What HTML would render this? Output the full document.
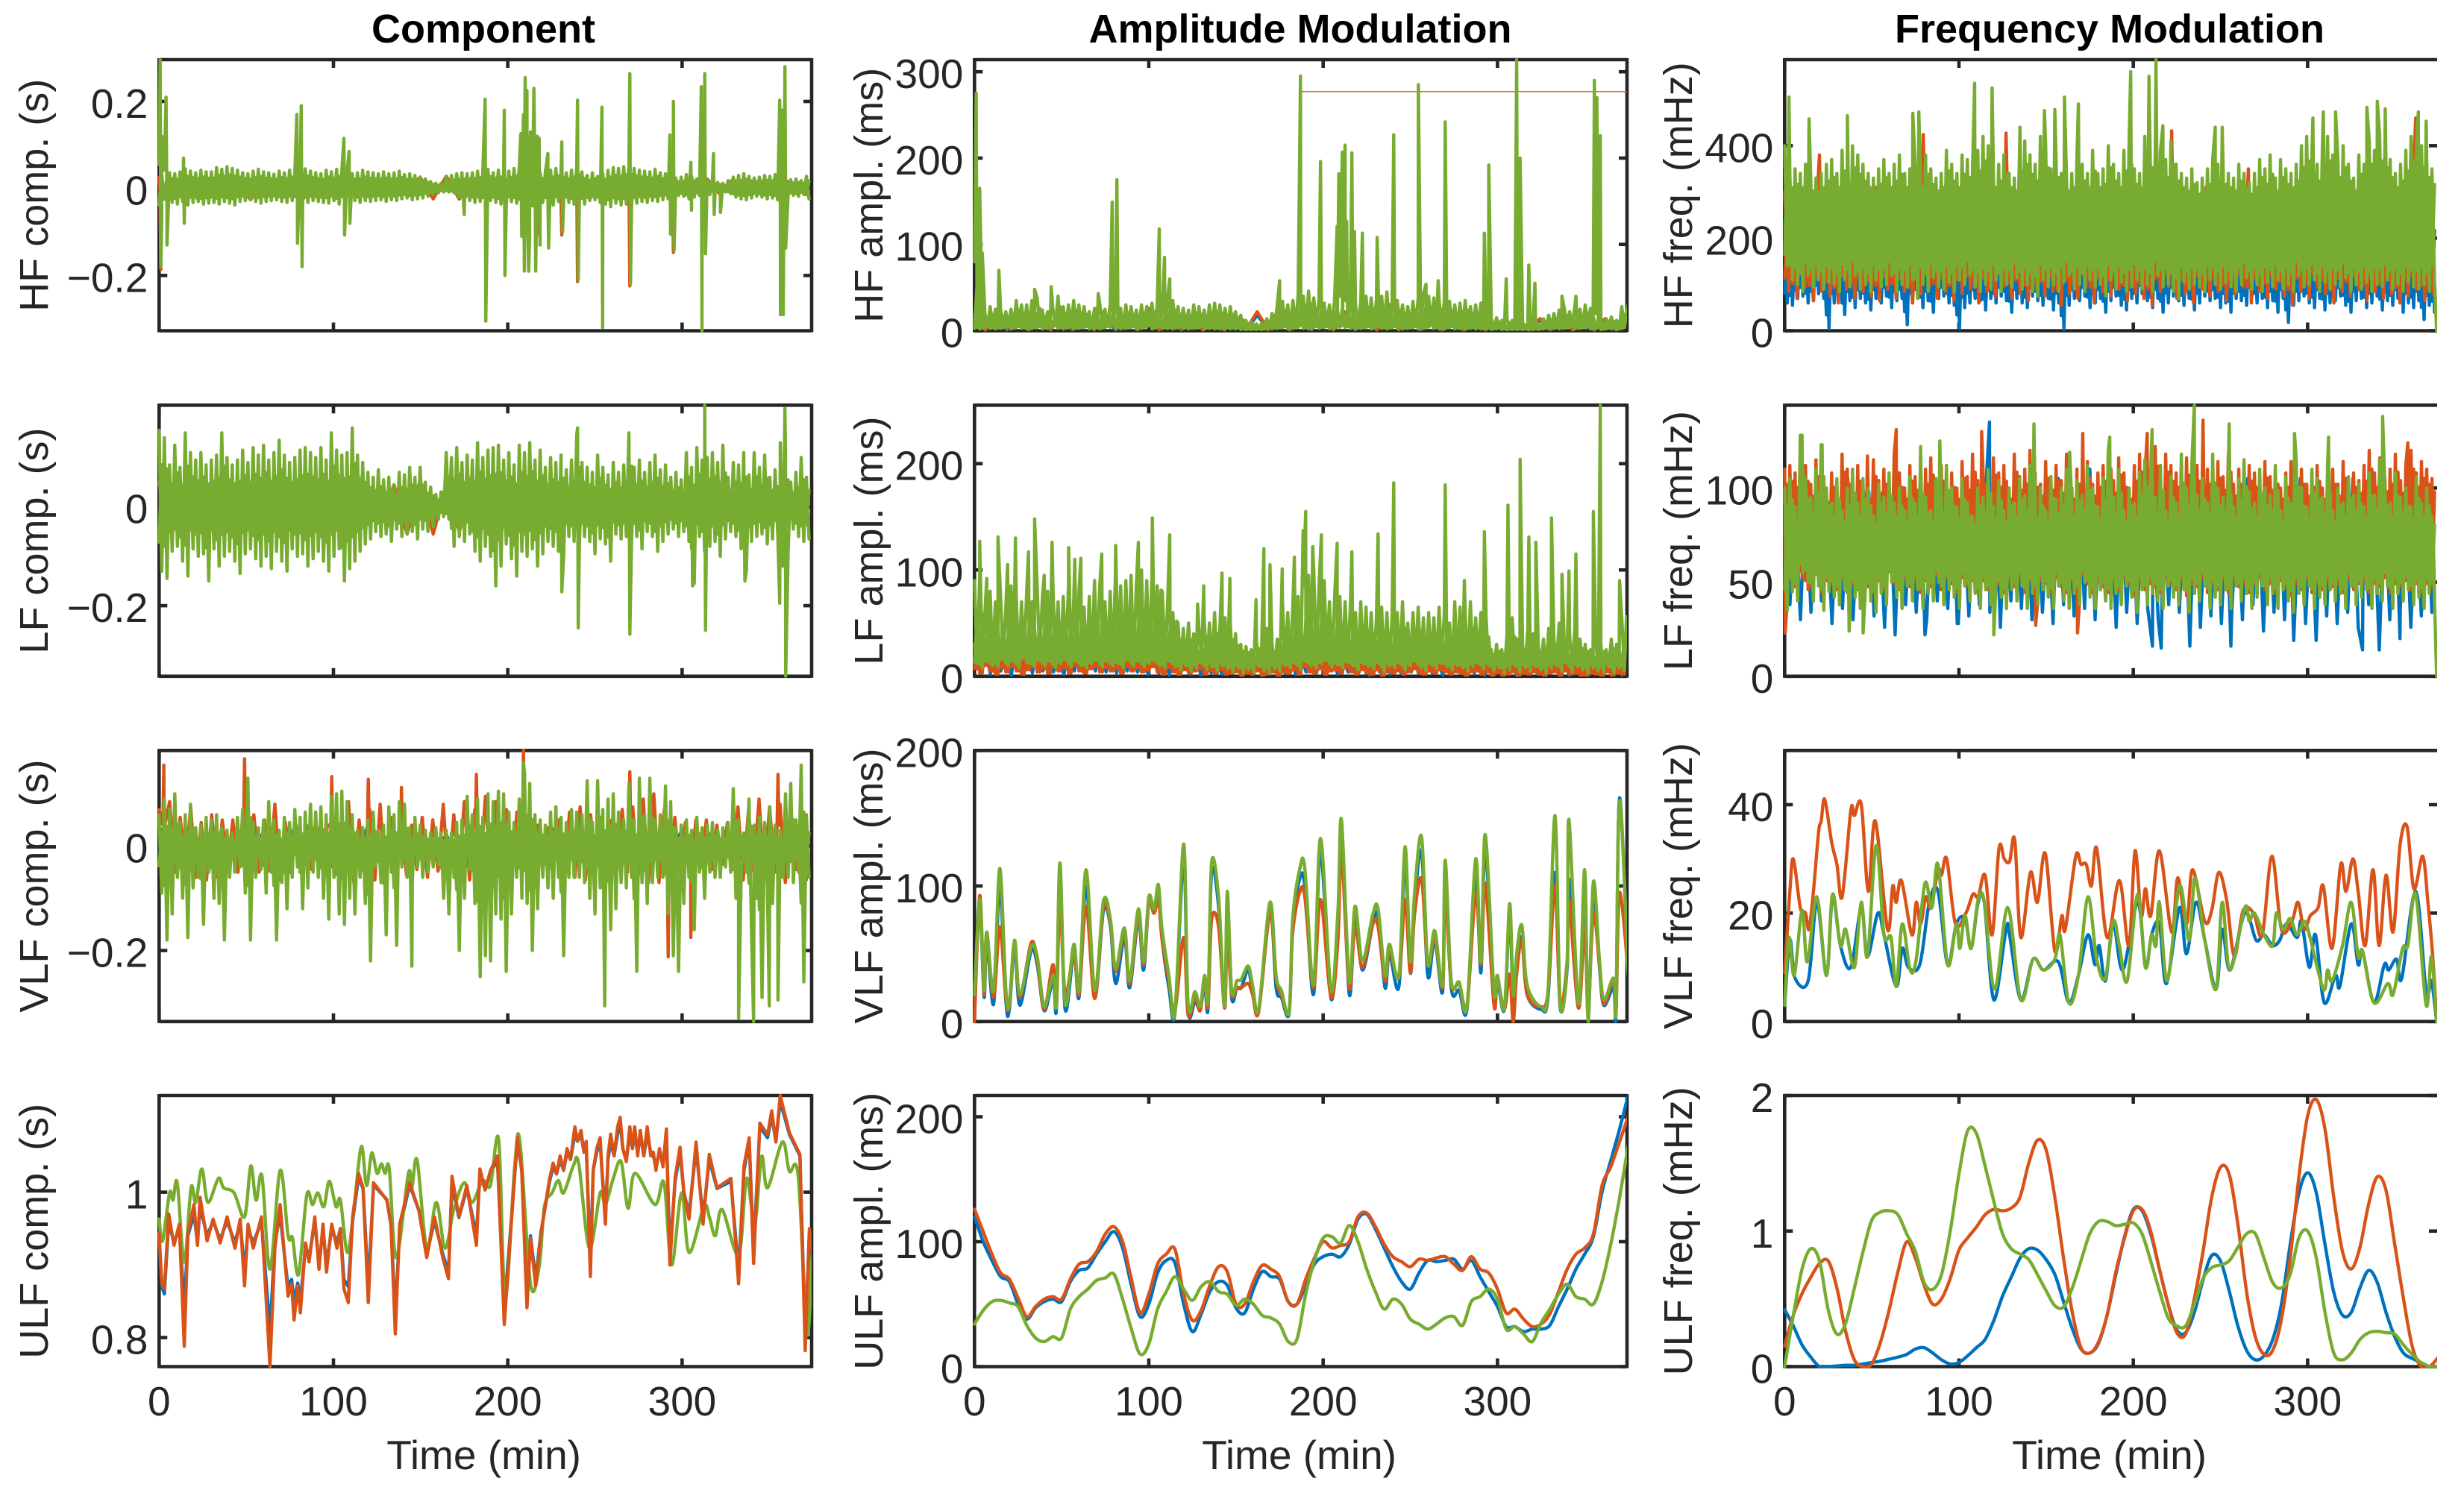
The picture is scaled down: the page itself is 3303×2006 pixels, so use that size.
<!DOCTYPE html>
<html lang="en">
<head>
<meta charset="utf-8">
<title>Component, amplitude and frequency modulation chart</title>
<style>
html,body{margin:0;padding:0;background:#fff}
svg{display:block}
text{font-family:"Liberation Sans",Arial,sans-serif;fill:#262626}
</style>
</head>
<body>
<svg id="figure" xmlns="http://www.w3.org/2000/svg" width="3303" height="2006" viewBox="0 0 3303 2006">
<rect x="0" y="0" width="3303" height="2006" fill="#ffffff"/>
<text x="648" y="57" font-size="54" font-weight="700" text-anchor="middle" style="fill:#000">Component</text>
<text x="1743" y="57" font-size="54" font-weight="700" text-anchor="middle" style="fill:#000">Amplitude Modulation</text>
<text x="2828" y="57" font-size="54" font-weight="700" text-anchor="middle" style="fill:#000">Frequency Modulation</text>
</svg>
<script>
/* ---------- shared axis data ---------- */
const timeTicks=[0,100,200,300];
const timeTickLabels=["0","100","200","300"];
const timeMax=374.3;

/* ---------- HF component (ms) ---------- */
const hfCompGreenHi=[55,42,36,34,38,45,40,36,42,38,38,48,44,50,46,42,36,34,40,44,38,36,33,40,36,42,34,38,45,40,36,34,42,38,44,40,38,34,36,42,38,36,34,38,34,36,40,32,34,30,26,22,16,12,12,26,30,34,36,34,36,40,38,44,36,42,34,40,46,50,48,44,40,36,38,42,46,40,36,42,50,38,30,36,28,34,42,48,46,50,52,46,42,40,38,44,36,34,30,24,26,32,28,22,26,20,16,14,12,18,26,30,34,28,24,26,30,28,32,20,18,20,22,18,28];
const hfCompGreenLo=[-60,-40,-32,-36,-30,-38,-32,-30,-36,-34,-32,-36,-30,-34,-38,-30,-28,-26,-30,-34,-30,-28,-26,-30,-32,-28,-30,-26,-32,-28,-30,-32,-34,-28,-36,-30,-26,-28,-32,-28,-30,-28,-26,-30,-26,-28,-24,-22,-26,-24,-22,-18,-14,-10,-8,-8,-10,-20,-30,-28,-32,-30,-34,-28,-32,-36,-38,-30,-34,-40,-46,-40,-36,-32,-34,-38,-30,-28,-32,-36,-30,-36,-28,-26,-32,-36,-42,-34,-38,-36,-40,-34,-30,-32,-28,-30,-26,-24,-22,-16,-18,-24,-20,-16,-18,-14,-10,-8,-8,-12,-20,-24,-26,-22,-18,-20,-24,-22,-26,-16,-14,-16,-18,-14,-24];
const hfCompGreenSpikeT=[0.6,1,1.5,4,4.5,14,14.4,79,79.4,81.5,82,106,106.4,109,109.4,175,187,187.4,198,198.4,207.5,208,209,209.5,210,210.5,211,212,212.5,213,215,216,217,218,218.5,223,223.4,231,231.4,240,240.4,254,254.4,270,270.4,293,293.4,295,295.4,305,305.4,311,311.4,313,313.4,318,318.4,322,356,356.4,357.5,358,359,359.4];
const hfCompGreenSpikeV=[296,-180,120,210,-130,70,-80,170,-126,190,-180,115,-107,85,-80,-60,205,-305,180,-200,126,-110,170,-190,255,-100,225,-190,-110,130,230,-190,120,115,-130,80,-137,107,-100,203,-210,187,-320,264,-220,123,-105,200,-143,60,-50,234,-327,264,-150,80,-60,-55,203,-290,180,-290,280,-137];
const hfCompBlueHi=[22,24,26,22,24,26,22,20,16,12,22,26,24,26,24,22,24,20,22,22,16,18,20,18,18];
const hfCompBlueLo=[-24,-24,-22,-26,-20,-24,-20,-18,-14,-8,-22,-24,-22,-22,-20,-22,-24,-20,-18,-14,-12,-12,-16,-14,-16];
const hfCompOrangeHi=[26,26,28,28,26,28,24,22,18,12,26,28,28,30,28,26,28,22,22,24,18,22,22,20,20];
const hfCompOrangeLo=[-26,-26,-24,-26,-22,-26,-22,-20,-14,-8,-24,-24,-22,-24,-22,-22,-24,-22,-20,-14,-12,-14,-16,-14,-16];
const hfCompOrangeSpikeT=[0.5,1,1.6,217.4,218,218.6,230.4,231,231.6,239.4,240,240.6,269.4,270,270.6,294.4,295,295.6];
const hfCompOrangeSpikeV=[0,-186,0,0,-105,0,0,-107,0,0,-214,0,0,-224,0,0,-147,0];
const hfCompYTicks=[-0.2,0,0.2];
const hfCompYTickLabels=["\u22120.2","0","0.2"];

/* ---------- LF component (ms) ---------- */
const lfCompGreenHi=[155,140,85,125,80,150,110,95,110,85,95,105,150,100,85,95,115,90,120,105,125,95,110,135,105,90,100,115,120,110,100,120,95,150,115,105,110,160,105,90,70,60,75,55,60,45,70,65,80,60,80,50,40,25,30,110,100,120,90,105,95,130,100,115,120,125,95,110,85,125,110,130,95,115,80,100,90,105,75,95,145,90,80,70,105,80,65,90,70,85,150,80,95,70,90,105,75,85,60,70,55,110,80,120,95,100,110,90,125,60,90,85,110,65,110,80,105,60,75,130,100,50,70,100,60];
const lfCompGreenLo=[-130,-145,-90,-80,-110,-140,-85,-100,-95,-150,-85,-120,-100,-90,-110,-135,-95,-85,-105,-120,-100,-125,-90,-110,-130,-85,-100,-95,-120,-105,-90,-110,-130,-100,-85,-150,-125,-110,-90,-75,-65,-50,-60,-55,-70,-45,-60,-55,-50,-65,-45,-50,-40,-25,-20,-25,-80,-60,-70,-55,-90,-110,-80,-100,-160,-120,-75,-105,-140,-90,-100,-85,-120,-95,-70,-80,-90,-100,-60,-70,-85,-60,-70,-95,-65,-75,-110,-55,-65,-60,-70,-60,-85,-50,-60,-90,-70,-55,-45,-60,-50,-70,-155,-60,-90,-80,-70,-100,-65,-50,-60,-85,-130,-70,-60,-55,-75,-65,-50,-120,-90,-45,-60,-70,-65];
const lfCompGreenSpikeT=[231,240,240.4,270,306,313,313.4,356,359,359.4,336];
const lfCompGreenSpikeV=[-172,160,-245,-258,-160,206,-250,-195,200,-343,-150];
const lfCompBlueHi=[45,45,50,45,50,45,40,20,15,40,50,45,40,40,40,35,25,30,35,30,30,35,25,25,25];
const lfCompBlueLo=[-50,-45,-45,-45,-50,-50,-30,-15,-25,-50,-50,-45,-35,-35,-35,-30,-40,-30,-30,-30,-30,-30,-30,-30,-25];
const lfCompOrangeHi=[50,50,50,45,55,45,40,20,20,45,55,45,40,40,40,40,30,30,35,35,30,35,30,30,30];
const lfCompOrangeLo=[-55,-50,-45,-50,-55,-50,-35,-15,-30,-55,-55,-50,-40,-40,-35,-30,-40,-35,-30,-30,-30,-35,-30,-30,-30];
const lfCompYTicks=[-0.2,0];
const lfCompYTickLabels=["\u22120.2","0"];

/* ---------- VLF component (ms) ---------- */
const vlfCompGreenHi=[60,90,70,100,45,60,80,35,40,55,50,60,35,30,25,55,70,130,45,35,50,85,50,30,55,45,70,55,65,80,65,75,60,95,100,105,85,60,30,35,50,65,30,40,75,60,85,80,35,55,40,30,25,35,25,30,25,45,50,95,60,90,55,100,85,105,100,65,45,90,140,120,60,50,40,65,75,55,45,70,65,60,125,45,125,70,90,100,65,50,120,50,130,60,130,50,60,115,85,35,40,50,30,55,35,40,45,30,35,45,110,50,25,90,40,55,45,75,40,30,100,120,50,155,60];
const vlfCompGreenLo=[-90,-180,-130,-60,-100,-175,-80,-60,-150,-50,-100,-110,-180,-60,-50,-40,-90,-180,-60,-45,-90,-50,-180,-70,-120,-60,-40,-120,-80,-50,-60,-100,-140,-60,-130,-150,-100,-130,-60,-110,-220,-40,-70,-170,-50,-190,-40,-60,-70,-40,-60,-50,-40,-35,-100,-130,-60,-200,-100,-45,-110,-250,-210,-220,-130,-140,-240,-130,-60,-100,-110,-200,-120,-60,-80,-100,-60,-210,-60,-60,-60,-70,-100,-130,-80,-100,-160,-120,-70,-80,-60,-240,-70,-110,-70,-60,-60,-130,-210,-240,-110,-60,-160,-50,-100,-50,-60,-60,-40,-50,-100,-60,-50,-170,-100,-290,-60,-110,-50,-60,-60,-70,-50,-260,-60];
const vlfCompGreenSpikeT=[255.6,332.4,341,350,355,145,209];
const vlfCompGreenSpikeV=[-306,-330,-336,-306,-295,-230,160];
const vlfCompBlueHi=[40,35,30,30,28,35,40,45,40,28,22,22,30,45,45,40,32,28,36,28,28,30,28,28,50];
const vlfCompBlueLo=[-45,-32,-32,-32,-32,-38,-38,-38,-32,-26,-22,-32,-45,-38,-38,-32,-32,-32,-32,-26,-32,-32,-32,-32,-45];
const vlfCompOrangeHi=[70,85,55,75,45,60,50,50,70,60,50,80,45,40,40,35,40,40,85,50,70,80,55,50,40,55,50,80,60,85,70,95,85,70,65,45,40,35,50,65,75,60,55,50,70,75,90,100,70,55,45,50,50,40,45,75,70,90,75,80,50,70];
const vlfCompOrangeLo=[-70,-50,-45,-60,-65,-60,-45,-50,-60,-50,-48,-65,-50,-40,-45,-35,-40,-38,-70,-45,-65,-70,-50,-55,-45,-60,-48,-70,-50,-65,-50,-70,-65,-60,-50,-38,-40,-35,-50,-60,-65,-45,-50,-48,-50,-65,-70,-70,-50,-45,-48,-38,-45,-35,-45,-65,-50,-65,-50,-70,-45,-65];
const vlfCompOrangeSpikeT=[2.2,2.7,3.2,48.5,49,49.5,98.5,99,99.5,119.5,120,120.5,138.5,139,139.5,181.5,182,182.5,208.5,209,209.5,269.5,270,270.5,354.5,355,355.5,291.5,292,292.5,304.5,305,305.5];
const vlfCompOrangeSpikeV=[40,155,40,40,167,40,40,133,40,40,128,40,40,112,40,40,137,40,40,185,40,40,142,40,40,137,40,-40,-212,-40,-40,-175,-40];
const vlfCompYTicks=[-0.2,0];
const vlfCompYTickLabels=["\u22120.2","0"];

/* ---------- ULF component (s) ---------- */
const ulfCompGreenT=[0,2,6,8,10.4,14.4,18.3,21,24.5,28,34,37,43,49,52.6,55.6,59,63.6,69.4,74,76.5,80,84.7,88,91,94.5,97.6,101.5,104,108,112,116,119,122,125,127.5,129.6,132,136,143,145,148,153.5,159,164,169,175,179.5,185.6,190,194.8,198.5,204,207,213,218,221,225.4,229,232,237.6,240.7,246.8,253,256,260.5,265,269,273,284.4,289.6,294,299.7,304,312.5,315.6,319,323,332.4,337,341.6,345.6,349,357.5,361.5,366.6,371.6,374.6];
const ulfCompGreenV=[0.963,0.933,0.999,0.989,1.013,0.904,1.006,0.986,1.032,0.986,1.019,1.006,0.999,0.966,1.036,0.989,1.022,0.894,1.03,0.94,0.937,0.887,0.996,0.983,0.999,0.98,1.015,0.98,0.989,0.917,0.983,1.063,1.009,1.054,1.026,1.039,1.026,1.032,0.91,1.026,1.006,1.044,0.923,0.986,0.923,0.976,1.013,0.986,1.016,1.009,1.072,0.854,1.036,1.069,0.874,0.897,0.98,0.999,1.016,0.999,1.036,1.039,0.923,0.999,0.983,1.019,1.042,0.978,1.026,0.983,1.013,0.9,0.999,0.917,0.98,0.966,0.94,0.976,0.914,1.019,0.956,1.049,1.006,1.069,1.029,1.022,0.805,0.917];
const ulfCompOrangeT=[0,1.5,3,5.5,8.5,11.6,14.4,16.5,20,22,23.5,27.5,31,35,39,43.5,46.5,49,51,54,58.7,63.6,66.4,69.4,72.5,74,76,77.4,79.5,81,84,86,89.3,91.7,94,96,99,102,104,106,108.5,111,114.4,117,120,123,130.6,133,135.5,138,143.7,149,153.5,158,162.7,166,168,172,176.5,182,184,187,190,194,198,201,205.5,208,211,213,216,219,224,226,228,230,232,234,236,238.5,240,242,243.7,245,247.4,249,251,253,254,256,257.5,259,261,263,264.5,266,268,270,271.5,272.8,274.5,276,278,280,282,283.5,285,287,289,291,293,296,298.8,301,304,308,312,315.6,320,328,332.4,335.5,338.5,341,344.6,349,351.4,353.8,356.3,361.5,367.6,370.6,373,374.6];
const ulfCompOrangeV=[0.943,0.874,0.867,0.97,0.927,0.956,0.788,0.943,0.983,0.927,0.993,0.933,0.963,0.93,0.966,0.923,0.963,0.871,0.956,0.923,0.966,0.76,0.923,0.983,0.897,0.857,0.874,0.824,0.871,0.834,0.93,0.904,0.966,0.894,0.956,0.89,0.956,0.923,0.95,0.867,0.848,0.966,1.026,1.006,0.848,1.013,0.989,0.956,0.805,0.956,1.013,0.975,0.91,0.966,0.91,0.881,1.022,0.966,1.009,0.927,1.032,1.003,1.029,1.05,0.818,0.923,1.075,1.03,0.841,0.937,0.871,0.943,1.019,1.04,1.025,1.05,1.03,1.06,1.045,1.09,1.07,1.085,1.055,1.07,0.884,1.03,1.06,1.075,1.03,0.956,1.05,1.08,1.05,1.09,1.103,1.06,1.042,1.09,1.06,1.09,1.05,1.085,1.05,1.09,1.05,1.055,1.03,1.06,1.035,1.087,0.9,1.02,1.062,1.0,0.963,1.069,0.956,1.052,1.006,1.019,0.874,1.036,1.075,0.902,1.095,1.079,1.112,1.069,1.133,1.082,1.052,0.782,0.95,0.917];
const ulfCompBlueV=[0.94,0.87,0.86,0.96,0.93,0.95,0.84,0.94,0.97,0.93,0.98,0.94,0.96,0.935,0.96,0.93,0.96,0.89,0.95,0.93,0.96,0.81,0.93,0.97,0.9,0.87,0.88,0.85,0.875,0.85,0.925,0.91,0.96,0.9,0.95,0.9,0.95,0.93,0.95,0.88,0.87,0.96,1.02,1.005,0.87,1.01,0.99,0.955,0.83,0.95,1.01,0.975,0.915,0.96,0.915,0.89,1.01,0.965,1.005,0.94,1.025,1.005,1.025,1.045,0.84,0.93,1.07,1.03,0.86,0.94,0.88,0.945,1.015,1.035,1.025,1.045,1.03,1.055,1.045,1.08,1.07,1.08,1.055,1.065,0.905,1.03,1.055,1.07,1.03,0.97,1.045,1.07,1.05,1.08,1.095,1.06,1.045,1.08,1.06,1.08,1.055,1.08,1.05,1.08,1.055,1.05,1.035,1.055,1.04,1.08,0.915,1.015,1.055,1.0,0.97,1.06,0.965,1.045,1.005,1.015,0.89,1.03,1.07,0.92,1.09,1.075,1.105,1.07,1.125,1.08,1.05,0.8,0.945,0.92];
const ulfCompYTicks=[0.8,1];
const ulfCompYTickLabels=["0.8","1"];

/* ---------- HF amplitude (ms) ---------- */
const hfAmplGreenHi=[80,30,20,28,25,25,22,25,35,30,30,35,38,24,22,26,40,28,30,35,30,28,22,26,32,25,30,28,26,30,28,24,30,28,32,30,25,38,35,28,26,24,30,28,24,30,32,30,26,28,22,18,12,10,8,9,14,20,30,34,30,35,42,40,46,38,36,32,30,38,40,35,30,30,35,40,38,35,40,45,30,35,30,28,34,38,42,40,38,36,35,34,30,32,35,28,30,32,25,14,15,12,14,12,12,10,8,9,8,14,18,20,24,26,22,28,25,30,26,20,12,14,16,12,28];
const hfAmplGreenLo=[4,3,5,4,3,4,6,3,5,4,3,4,5,3,4,6,4,3,5,3,4,5,3,4,3,5,6,4,3,4,5,3,4,6,3,5,4,4,3,5,4,3,4,5,3,4,3,3,4,3,3,2,2,2,2,2,3,3,4,5,3,4,6,4,3,5,4,5,3,4,6,5,4,3,4,5,3,6,4,3,5,4,3,4,5,3,4,6,4,3,4,5,3,4,3,4,3,3,3,2,3,2,2,2,2,2,2,2,2,3,3,4,3,4,5,3,4,5,3,4,2,3,3,2,4];
const hfAmplGreenSpikeT=[1,3,4.5,14,34.5,44,71,79,81.7,106,109,112,175,187,198.5,208,209,211,212.6,213.5,216.5,218,222.5,231,240.5,254.6,259,266,270,292.5,295,305,311,313,318,321.5,337,345,355.6,357,359,375];
const hfAmplGreenSpikeV=[275,165,90,70,48,51,43,149,175,118,85,60,58,295,196,121,182,207,215,127,206,115,113,108,227,285,54,58,242,113,192,60,314,200,76,55,40,40,290,270,226,30];
const hfAmplBlueHi=[14,16,14,18,16,18,14,16,18,16,12,8,12,18,16,18,18,16,14,18,16,12,6,6,8,10,12,14,6,8];
const hfAmplBlueLo=[1,1,2,1,1,2,1,1,2,1,1,1,1,2,1,1,2,1,1,2,1,1,1,1,1,2,1,2,1,1];
const hfAmplOrangeHi=[18,20,22,24,18,20,18,22,26,20,16,8,16,22,26,22,20,22,18,22,18,14,8,8,10,12,14,18,8,14];
const hfAmplOrangeLo=[1,2,1,1,2,1,2,1,1,2,1,1,2,1,1,2,1,2,1,1,2,1,1,1,2,1,2,1,1,2];
const hfAmplFlatT=[188,374.3];
const hfAmplFlatV=[277,277];
const hfAmplYTicks=[0,100,200,300];
const hfAmplYTickLabels=["0","100","200","300"];

/* ---------- LF amplitude (ms) ---------- */
const lfAmplGreenHi=[90,95,60,80,70,75,65,85,75,70,80,70,85,75,80,90,70,75,85,70,80,65,75,90,85,70,80,95,85,90,95,85,100,90,95,85,80,70,60,50,45,50,40,45,55,50,60,45,55,50,40,30,28,25,35,25,45,30,35,70,60,70,75,85,95,100,85,90,70,75,75,70,65,60,70,65,60,55,65,60,55,60,70,50,60,65,55,60,55,65,60,50,70,65,60,70,55,60,55,25,30,25,40,55,35,30,45,40,30,35,45,35,50,30,40,45,35,30,25,35,30,25,35,30,55];
const lfAmplGreenLo=[12,8,14,10,9,16,10,14,8,18,12,9,15,10,14,8,12,16,9,14,10,8,12,15,9,14,10,12,8,16,10,14,9,12,15,10,8,14,9,6,10,5,8,12,6,9,5,10,7,4,8,3,6,4,9,5,3,7,5,10,8,12,6,14,10,8,12,15,9,11,8,13,10,6,12,9,7,12,4,10,8,12,6,10,14,8,5,11,7,12,9,6,10,8,5,9,12,7,10,5,8,3,6,10,4,8,5,9,6,3,8,10,5,12,4,9,6,3,8,5,4,9,3,8,5];
const lfAmplGreenSpikeT=[3,7,13.5,19,23.5,31,34.5,40,44.5,54,57.5,61,73,81,94,102,107,112,116,128,131.5,142,146.5,161.5,166,169.5,176.5,183.5,188.5,190,194,199,208,216.5,231.5,240.5,270,281,292.5,306,313,318,322,331,337,341,345,355,359,370,374];
const lfAmplGreenSpikeV=[127,92,131,105,130,117,148,95,126,121,110,111,115,123,126,149,81,133,52,68,85,97,92,72,120,105,101,112,137,155,122,133,125,117,134,182,180,90,136,161,204,131,126,149,96,99,115,155,255,90,56];
const lfAmplBlueHi=[30,30,35,30,35,30,30,18,15,28,35,30,28,28,28,24,18,22,25,22,22,25,18,18,18,18,18,22,18,22,25,22,18,22,18,18,15,18,18,15,25,18,22,18,16,18,18,15,18,15,18,15,16,15,18,15,15,16,18,15,18,18];
const lfAmplBlueLo=[4,2,5,1,4,3,5,4,2,5,3,5,4,3,5,4,2,3,1,4,2,1,3,2,4,1,3,2,4,3,2,4,3,5,2,4,3,1,4,2,3,4,2,3,1,4,2,3,1,2,3,1,3,2,4,2,1,3,2,1,3,1];
const lfAmplOrangeHi=[30,26,32,26,30,30,24,30,26,32,28,30,26,30,28,30,26,30,24,28,30,26,32,28,24,30,26,30,28,26,30,24,28,26,24,20,18,22,16,16,20,16,18,16,16,20,16,14,16,12,18,14,12,14,16,12,16,14,20,18,22,20,24,22,26,22,22,24,20,22,22,24,20,18,22,16,20,18,22,18,16,20,16,18,16,20,16,18,16,20,16,18,22,16,20,16,18,16,14,12,14,12,16,16,14,12,16,14,12,12,16,14,16,12,14,16,12,12,14,12,16,12,12,14,16];
const lfAmplOrangeLo=[7,3,10,5,2,8,4,9,5,2,6,9,4,7,3,9,5,8,3,10,5,3,7,9,4,8,5,7,3,9,5,8,4,6,9,4,2,8,4,2,6,3,5,7,2,5,3,6,2,3,4,1,3,2,5,1,2,4,1,4,3,6,2,9,4,3,7,2,5,6,3,8,4,2,6,3,2,6,1,4,3,5,2,4,7,3,2,5,3,6,4,2,4,3,1,4,5,2,4,1,3,1,2,4,1,3,2,4,2,1,3,4,1,5,2,3,1,1,3,2,1,4,1,3,2];
const lfAmplYTicks=[0,100,200];
const lfAmplYTickLabels=["0","100","200"];

/* ---------- VLF amplitude (ms), shared knots ---------- */
const vlfAmplTime=[0,3,5.5,7,11,14.5,18,20,23,26,32.5,36,40,45,47,49,52,57,60,64,69,74,78,81,86,89,94,97,100,103,105.5,107.5,111.5,115,120,122.5,126.5,129.5,132,134,136,140,143.5,145,147.5,150.5,153,157,159.5,163,169.5,173,176,180.5,182.5,186.5,189.5,194.5,198.5,204.5,208.5,210.5,215,218.3,222.5,228.5,231.5,235.5,238,243.5,247,250,252.5,256.5,260,264,268.5,270,273.5,278,282.5,287.5,290.5,293,298,300,304,307,309,311,314,317,325,329,333,336,340,341,346.5,350,352,355,358.5,361,366.5,368,370,375];
const vlfAmplGreen=[20,90,23,66,23,113,23,13,60,20,55,48,11,34,13,117,13,57,23,112,23,89,75,39,69,30,83,44,92,83,101,69,34,7,131,13,22,11,34,16,117,92,11,96,23,30,31,41,27,9,88,34,23,7,75,112,113,27,135,23,82,149,30,85,45,79,83,34,57,34,129,44,96,136,43,67,27,119,30,29,11,120,44,138,23,34,10,87,20,50,71,27,11,23,152,13,45,149,13,112,0,103,45,16,32,9,163,36];
const vlfAmplOrange=[0,93,20,63,18,70,17,12,59,18,58,45,9,42,11,88,20,50,20,85,17,85,72,37,66,28,78,42,88,80,90,62,30,8,62,5,18,8,32,11,75,70,10,65,20,25,25,28,20,7,80,32,20,8,65,95,92,25,90,18,60,125,25,70,40,72,70,30,52,33,90,36,80,105,42,62,25,95,28,28,12,95,42,102,12,30,9,35,0,35,60,20,11,22,100,12,45,90,10,70,8,80,42,13,30,7,95,36];
const vlfAmplBlue=[15,85,18,60,13,100,15,9,55,12,52,42,8,30,9,110,9,50,18,100,18,82,70,28,62,25,75,38,88,80,95,62,25,6,120,9,15,9,28,10,110,85,10,88,18,25,25,38,22,8,82,25,18,6,70,105,100,20,125,17,75,140,20,80,38,72,78,25,50,26,120,36,88,125,34,60,22,110,25,23,9,110,36,128,18,30,9,80,15,42,62,20,9,18,110,10,40,105,10,100,5,95,40,12,25,7,165,34];
const vlfAmplYTicks=[0,100,200];
const vlfAmplYTickLabels=["0","100","200"];

/* ---------- ULF amplitude (ms), one value every 5 min ---------- */
const ulfAmplBlue=[120,100,85,72,68,50,38,47,52,54,52,68,77,79,90,100,108,95,65,40,50,75,85,83,50,28,42,60,68,65,47,43,62,76,72,70,52,50,65,82,88,90,88,98,118,122,110,95,80,68,62,75,85,84,85,86,78,85,72,60,48,32,32,28,30,30,33,48,62,78,90,104,140,165,190,217];
const ulfAmplOrange=[126,108,90,75,70,55,40,48,54,56,54,70,82,84,92,106,112,100,70,43,58,82,90,94,58,37,45,65,80,76,50,50,68,81,78,72,52,50,70,87,100,95,97,100,120,123,112,98,88,84,80,86,85,87,88,82,77,88,78,75,62,43,46,38,32,34,42,60,78,90,95,106,145,160,180,200];
const ulfAmplGreen=[34,45,52,53,51,48,33,23,20,24,23,46,56,62,69,71,74,54,30,10,18,46,60,72,62,53,64,68,60,58,49,54,50,41,39,34,20,22,58,85,103,104,99,113,100,78,60,46,54,50,38,34,30,34,39,40,33,52,56,62,54,30,32,26,20,35,46,58,66,56,54,50,68,98,135,177];
const ulfAmplYTicks=[0,100,200];
const ulfAmplYTickLabels=["0","100","200"];

/* ---------- HF frequency (mHz) ---------- */
const hfFreqGreenHi=[400,340,350,340,360,330,330,340,360,370,340,390,350,400,380,360,340,330,350,370,340,360,380,340,350,360,340,380,350,330,340,390,360,340,380,370,350,390,420,400,340,360,380,340,330,390,410,380,360,420,400,350,370,340,330,340,380,360,340,390,340,350,400,360,340,390,410,350,340,420,400,380,390,370,410,360,340,330,350,320,330,350,370,360,350,340,330,360,340,320,340,370,350,380,330,370,350,340,360,400,420,380,360,390,420,380,370,400,360,330,380,360,410,390,420,400,370,340,360,390,420,380,400,370,350];
const hfFreqGreenLo=[140,110,100,85,120,95,110,90,105,100,85,110,95,120,90,100,85,110,95,100,120,85,100,95,110,70,100,85,115,95,90,105,85,110,100,120,95,85,100,90,110,85,100,95,115,90,100,85,75,110,95,100,85,105,120,90,100,85,110,95,100,75,110,90,105,85,95,110,90,100,85,120,95,100,85,70,105,90,100,95,85,110,100,90,105,95,85,100,115,90,100,85,105,95,110,90,100,85,120,95,100,110,85,105,90,100,95,115,85,100,90,105,85,100,95,110,90,100,85,105,95,90,100,85,110];
const hfFreqGreenSpikeT=[2.5,14,36,73.5,77,109,119,135,149,155,160.5,168.5,198.5,209,213,217,247,251,303,309,316,334,340,344.5,363.5,368,374];
const hfFreqGreenSpikeV=[505,458,465,470,473,535,525,440,476,478,505,490,560,550,586,443,440,440,460,473,473,483,496,480,473,453,0];
const hfFreqBlueHi=[240,200,180,220,200,190,210,180,200,220,190,200,180,210,190,220,200,180,210,190,200,220,180,190,210,200,180,220,190,200,210,180,200,190,220,180,200,210,190,180,200,220,190,200,180,210,190,220,200,180,200,190,210,180,220,200,190,180,210,200,220,180,190,210,200,180,220,190,200,210,180,200,190,220,180,200,210,190,180,200,220,190,200,180,210,190,220,200,180,210,190,200,220,180,190,210,200,180,220,190,200,210,180,200,190,220,180,200,210,190,180,200,220,190,200,180,210,190,220,200,180,210,190,200,220];
const hfFreqBlueLo=[60,55,70,75,60,65,80,70,5,60,75,35,65,50,70,60,45,70,60,75,50,65,70,13,60,70,50,65,40,70,75,60,55,5,50,60,70,65,45,70,60,75,65,40,70,60,50,75,65,55,70,45,60,3,55,70,65,75,50,60,70,40,65,75,55,45,70,60,80,65,50,70,40,60,75,65,55,70,45,60,75,65,70,50,60,40,70,65,55,75,60,70,50,65,40,70,18,55,65,75,60,50,70,45,60,65,75,55,40,65,70,50,60,75,45,65,55,70,40,60,50,65,24,55,40];
const hfFreqOrangeHi=[300,280,290,270,310,290,260,280,300,290,270,310,290,270,280,310,290,270,300,280,260,290,300,270,290,310,270,280,290,300,270,290,310,280,300,270,290,280,310,300,270,290,280,300,310,270,290,280,300,270,290,310,280,270,300,290,280,310,270,290,300,280,270,310,290,300,270,280,310,290,300,280,270,290,310,270,300,280,290];
const hfFreqOrangeLo=[85,70,95,65,85,75,60,90,70,85,75,65,90,70,85,60,80,95,70,85,65,80,90,60,85,75,95,70,80,65,90,75,85,55,80,70,95,60,85,75,90,65,80,70,55,85,95,70,80,60,90,75,85,65,80,95,60,85,70,90,75,55,85,70,95,80,60,85,75,90,65,85,70,80,60,75,90,65,80];
const hfFreqOrangeSpikeT=[79.5,127,222,362,266,20];
const hfFreqOrangeSpikeV=[424,427,432,460,350,380];
const hfFreqYTicks=[0,200,400];
const hfFreqYTickLabels=["0","200","400"];

/* ---------- LF frequency (mHz) ---------- */
const lfFreqGreenHi=[100,105,90,128,105,95,110,123,100,92,105,88,100,110,92,105,100,85,102,95,108,92,100,88,106,92,110,95,88,105,95,112,100,90,105,92,85,100,95,110,90,104,88,100,92,105,96,112,90,100,88,106,94,100,110,92,104,96,112,100,90,105,120,95,110,88,100,92,108,115,100,95,112,88,106,92,118,100,112,96,105,92,118,100,95,110,90,105,115,98,92,110,100,96,112,88,106,92,115,100,90,110,105,95,112,88,100,92,106,96,102,90,108,96,115,100,92,108,95,100,90,106,92,100,85];
const lfFreqGreenLo=[35,45,40,55,50,40,48,35,45,42,38,46,35,42,36,48,40,34,44,38,50,42,36,48,40,46,36,44,40,50,38,46,42,36,48,40,44,36,46,38,50,42,36,46,40,48,36,44,38,46,42,36,48,40,36,44,38,50,42,36,46,40,36,44,38,48,42,34,46,38,44,40,36,48,42,38,46,34,44,40,48,36,42,38,46,36,48,40,44,36,42,48,38,44,36,46,40,34,44,38,48,36,42,38,46,40,44,36,48,38,42,46,36,44,40,48,36,44,40,46,38,42,36,44,40];
const lfFreqGreenSpikeT=[10,21.5,37,45,78,89,120,143,163.5,186.5,210.8,235,255,292.5,312,343,374];
const lfFreqGreenSpikeV=[128,123,24,23,122,125,22,134,119,127,131,144,134,129,127,138,0];
const lfFreqBlueHi=[95,90,100,92,88,96,105,90,98,88,95,100,92,90,104,88,100,92,98,88,105,95,90,100,96,88,105,92,100,110,95,92,100,90,105,92,88,100,96,105,90,98,92,88,105,96,90,100,92,105,88,96,100,90,105,92,88,98,100,95,90,105];
const lfFreqBlueLo=[38,30,34,40,28,36,30,42,32,26,22,38,34,30,40,36,28,32,38,34,26,40,36,30,34,28,38,32,36,30,40,26,34,28,36,30,38,34,16,26,32,28,36,30,38,24,34,30,36,28,19,32,28,34,26,38,14,30,36,26,32,34];
const lfFreqBlueSpikeT=[80.5,99,117.5,211,216,256,292,331.5,353];
const lfFreqBlueSpikeV=[22,28,135,16,15,16,19,14,20];
const lfFreqOrangeHi=[110,112,108,100,112,102,115,105,98,108,100,118,110,102,112,104,100,115,104,110,102,118,108,100,112,106,102,110,116,104,112,102,108,100,114,106,118,104,110,102,116,108,112,100,118,106,110,120,108,102,114,106,112,104,118,100,110,106,114,102,108,112,120,104,116,108,100,112,118,106,110,122,104,118,112,108,102,116,106,112,104,110,100,114,106,118,102,110,104,112,108,102,114,106,110,100,108,114,104,110,102,108,112,100,106,110,102,114,100,108,104,112,120,108,116,105,110,118,104,112,120,108,114,110,105];
const lfFreqOrangeLo=[40,48,42,52,46,42,50,38,46,44,40,48,38,44,40,50,42,38,46,40,52,44,40,48,42,46,38,46,42,50,40,48,44,38,48,42,46,38,46,40,50,44,38,46,42,48,38,46,40,46,44,38,48,42,38,46,40,50,44,38,46,42,38,46,40,48,44,36,46,40,44,42,38,48,44,40,46,36,44,42,48,38,44,40,46,38,48,42,44,38,44,48,40,44,38,46,42,36,44,40,48,38,44,40,46,42,44,38,48,40,44,46,38,44,42,48,38,44,42,46,40,44,38,44,42];
const lfFreqOrangeSpikeT=[0.3,47.5,64,113,144,168,171,208,240,357.5];
const lfFreqOrangeSpikeV=[23,117,131,130,27,23,129,129,136,124];
const lfFreqYTicks=[0,50,100];
const lfFreqYTickLabels=["0","50","100"];

/* ---------- VLF frequency (mHz) ---------- */
const vlfFreqOrangeT=[0,3,5,9,12,14,16.5,19.5,21,23,27,30,33,38,40,44,48,52,59,62,64,67,73,75.5,78,81,84,88,90,93,98,104,108,111,115,119,123,126,129,132,135.5,141,145,149.5,155,159,161,167,170,173,176,179,185,192,197.5,201,204.5,207,210,215,222,225.5,230.5,234,241,245,249,253.5,258,263,269,274,279.5,285,291,294.5,298,301.5,306,309,314,319,322,326,329,333,337.5,341,345,349,353,357,361,366,369,372,374];
const vlfFreqOrangeV=[9,24,30,21,20,17,24,35,37,41,33,29,23,39,38,40,24,37,17,25,22,26,16,22,18,23,21,28,27,30,18,20,23.5,23,27,16,32,30,29.5,33.5,15.5,27.5,22,31,13,19.5,17,30.5,29,29,25,32,15.5,26,14,31.5,19.5,24.5,19.5,31.5,16.5,26.5,18,28,18.5,20.5,27.5,22.5,12,20.5,20,16,30.5,17,18.5,22,17,19.5,21,25,13.5,29,24,30,24,14,28,14,27,16.5,32.5,36,24.5,30.5,22,11,0];
const vlfFreqGreenT=[0,2.5,5.5,10,13,18.5,24,27.5,32,35,40,44,47.5,52.5,57,61,64,67.5,72,75.5,80.5,84.5,88,93.5,98.5,100.5,103.5,107,111,114.5,120.5,128,135.5,142.5,148.5,155,158,163,168.5,174,179,184,188.5,192,196.5,202.5,207,210.5,213,215,219.5,226.5,232,235.5,241,247.5,251,255.5,264,266.5,269.5,275,280,282,286,290,294,298,301,309,311.5,314,320,325,329,331.5,338,346,349,354.5,357.5,362,368,371,374];
const vlfFreqGreenV=[3,15.5,8.5,20.5,11,23,8.5,23.5,14,17,10,22,12,32.5,16,15.5,6.5,18,9.5,11.5,25.5,21,29,10.5,18,13.5,19.5,13.5,22.5,22,6,21,4,11.5,9.5,11.5,16,3.5,8.5,23,11.5,8,18.5,14,7.5,23.5,10,16,14,22,7.5,25,15,26.5,15,6,22,9.5,21,18.5,20,16,14,20,17,19,16,18.5,16,6,9.5,7.5,14,22,12,13,3.5,7,5,13.5,14,23.5,3,12,0];
const vlfFreqBlueT=[0,3,6,13.5,18.5,24,27.5,32,38,44,47.5,53.5,57,64,67.5,71,77.5,83,88,93.5,98.5,103.5,107,111,114.5,120,127,129,135.5,142.5,148.5,157,163,168.5,174,178,180.5,184,188.5,194,202.5,207,210.5,215,219,226.5,230.5,236,241,247.5,251,255.5,264,270.5,275,280,284,288,294,296.5,301,304.5,309.5,316,318.5,325,329,331.5,338,344,346.5,351,354,362,368,371,374];
const vlfFreqBlueV=[3,15,8,7.5,22,8.5,23,14,10,21,12,20,16,6.5,13.5,10,10.5,22,24,10.5,18,19,13.5,22,22,4,17,16,4,11.5,9.5,11,3.5,8.5,16,10.5,14,7.5,18,9.5,22,10,16,18,7,21,12.5,22,15,6,17,9.5,20,15,16,14,15,18,15.5,18.5,10,16,3.5,8.5,6.5,18,10.5,13,3.5,10.5,9.5,11.5,8,24,5.5,7.5,0];
const vlfFreqYTicks=[0,20,40];
const vlfFreqYTickLabels=["0","20","40"];

/* ---------- ULF frequency (mHz), one value every 5 min ---------- */
const ulfFreqBlue=[0.42,0.30,0.16,0.07,0,0,0.005,0.01,0.01,0.02,0.03,0.04,0.055,0.07,0.09,0.13,0.14,0.10,0.05,0.02,0.03,0.08,0.14,0.2,0.34,0.52,0.66,0.80,0.87,0.86,0.79,0.68,0.48,0.28,0.13,0.10,0.17,0.38,0.68,0.96,1.16,1.15,0.98,0.72,0.46,0.27,0.25,0.40,0.64,0.82,0.78,0.56,0.30,0.12,0.05,0.08,0.2,0.46,0.9,1.28,1.43,1.28,0.9,0.55,0.38,0.4,0.58,0.71,0.62,0.4,0.22,0.1,0.06,0.03,0,0];
const ulfFreqOrange=[0.15,0.38,0.54,0.66,0.76,0.78,0.58,0.26,0.05,0,0.02,0.18,0.42,0.7,0.92,0.8,0.6,0.46,0.5,0.65,0.86,0.95,1.03,1.12,1.16,1.15,1.17,1.25,1.5,1.67,1.6,1.25,0.8,0.4,0.14,0.1,0.18,0.38,0.7,0.95,1.15,1.16,1,0.72,0.46,0.25,0.24,0.5,0.85,1.25,1.47,1.42,1.05,0.55,0.22,0.09,0.12,0.35,0.8,1.4,1.85,1.97,1.75,1.25,0.85,0.72,0.88,1.2,1.4,1.3,0.9,0.5,0.15,0,0,0.07];
const ulfFreqGreen=[0,0.38,0.72,0.87,0.78,0.42,0.24,0.32,0.58,0.85,1.08,1.14,1.15,1.12,0.98,0.85,0.62,0.57,0.68,1,1.42,1.74,1.72,1.48,1.22,0.98,0.87,0.83,0.79,0.68,0.56,0.45,0.44,0.58,0.78,0.98,1.07,1.07,1.04,1.05,1.06,0.98,0.78,0.56,0.36,0.3,0.3,0.46,0.65,0.73,0.75,0.78,0.88,0.98,0.98,0.8,0.62,0.58,0.68,0.95,1,0.8,0.4,0.1,0.05,0.1,0.2,0.25,0.26,0.25,0.24,0.16,0.09,0.03,0,0];
const ulfFreqYTicks=[0,1,2];
const ulfFreqYTickLabels=["0","1","2"];

/* ---------- drawing ---------- */
const SVG_NS='http://www.w3.org/2000/svg';
const figure=document.getElementById('figure');
const BLUE='#0072BD',ORANGE='#D95319',GREEN='#77AC30',INK='#262626';
const colLeft=[213.3,1306.3,2392.3];
const colWidth=874.7;
const rowTop=[80,543.3,1006.3,1469];
const rowHeight=363.5;
const labelBase=[64,1183,2268];

function make(tag,parent){
  const el=document.createElementNS(SVG_NS,tag);
  parent.appendChild(el);
  return el;
}
function evenPoints(values){
  return values.map((v,i)=>[i*5,v]);
}
function knotPoints(times,values){
  const n=Math.min(times.length,values.length);
  const pts=[];
  for(let i=0;i<n;i++){pts.push([times[i],values[i]]);}
  return pts;
}
function bandPoints(hi,lo,spikeT,spikeV){
  const n=Math.min(hi.length,lo.length);
  const step=timeMax/n;
  const pts=[];
  for(let i=0;i<n;i++){
    pts.push([i*step,hi[i]]);
    pts.push([(i+0.5)*step,lo[i]]);
  }
  if(spikeT){
    const m=Math.min(spikeT.length,spikeV.length);
    for(let i=0;i<m;i++){pts.push([spikeT[i],spikeV[i]]);}
  }
  pts.sort((a,b)=>a[0]-b[0]);
  return pts;
}
/* opposite-phase pass over the same values, pulled toward the band's centre:
   the inner part of a dense trace reads solid while the outer swings stay spiky */
function corePoints(hi,lo,centre,reach){
  const n=Math.min(hi.length,lo.length);
  const step=timeMax/n;
  const pts=[];
  for(let i=0;i<n;i++){
    pts.push([i*step,centre+(lo[i]-centre)*reach]);
    pts.push([(i+0.5)*step,centre+(hi[i]-centre)*reach]);
  }
  return pts;
}
function straightPath(p){
  return p.map((q,i)=>(i?'L':'M')+q[0].toFixed(1)+' '+q[1].toFixed(1)).join('');
}
function smoothPath(p){
  let d='M'+p[0][0].toFixed(1)+' '+p[0][1].toFixed(1);
  for(let i=0;i<p.length-1;i++){
    const a=p[Math.max(0,i-1)],b=p[i],c=p[i+1],e=p[Math.min(p.length-1,i+2)];
    const c1x=b[0]+(c[0]-a[0])/6,c1y=b[1]+(c[1]-a[1])/6;
    const c2x=c[0]-(e[0]-b[0])/6,c2y=c[1]-(e[1]-b[1])/6;
    d+='C'+c1x.toFixed(1)+' '+c1y.toFixed(1)+' '+c2x.toFixed(1)+' '+c2y.toFixed(1)+' '+c[0].toFixed(1)+' '+c[1].toFixed(1);
  }
  return d;
}
const panels=[
 {id:'hf-component',col:0,row:0,label:'HF comp. (s)',yMin:-0.327,yMax:0.296,scale:0.001,ticks:hfCompYTicks,tickLabels:hfCompYTickLabels,series:[
  {n:'blue',c:BLUE,pts:bandPoints(hfCompBlueHi,hfCompBlueLo)},
  {n:'orange',c:ORANGE,pts:bandPoints(hfCompOrangeHi,hfCompOrangeLo,hfCompOrangeSpikeT,hfCompOrangeSpikeV)},
  {n:'green',c:GREEN,core:corePoints(hfCompGreenHi,hfCompGreenLo,0,0.62),pts:bandPoints(hfCompGreenHi,hfCompGreenLo,hfCompGreenSpikeT,hfCompGreenSpikeV)}]},
 {id:'lf-component',col:0,row:1,label:'LF comp. (s)',yMin:-0.343,yMax:0.206,scale:0.001,ticks:lfCompYTicks,tickLabels:lfCompYTickLabels,series:[
  {n:'blue',c:BLUE,pts:bandPoints(lfCompBlueHi,lfCompBlueLo)},
  {n:'orange',c:ORANGE,pts:bandPoints(lfCompOrangeHi,lfCompOrangeLo)},
  {n:'green',c:GREEN,core:corePoints(lfCompGreenHi,lfCompGreenLo,0,0.55),pts:bandPoints(lfCompGreenHi,lfCompGreenLo,lfCompGreenSpikeT,lfCompGreenSpikeV)}]},
 {id:'vlf-component',col:0,row:2,label:'VLF comp. (s)',yMin:-0.336,yMax:0.183,scale:0.001,ticks:vlfCompYTicks,tickLabels:vlfCompYTickLabels,series:[
  {n:'blue',c:BLUE,pts:bandPoints(vlfCompBlueHi,vlfCompBlueLo)},
  {n:'orange',c:ORANGE,pts:bandPoints(vlfCompOrangeHi,vlfCompOrangeLo,vlfCompOrangeSpikeT,vlfCompOrangeSpikeV)},
  {n:'green',c:GREEN,core:corePoints(vlfCompGreenHi,vlfCompGreenLo,0,0.42),pts:bandPoints(vlfCompGreenHi,vlfCompGreenLo,vlfCompGreenSpikeT,vlfCompGreenSpikeV)}]},
 {id:'ulf-component',col:0,row:3,label:'ULF comp. (s)',yMin:0.76,yMax:1.133,scale:1,ticks:ulfCompYTicks,tickLabels:ulfCompYTickLabels,xAxis:true,series:[
  {n:'blue',c:BLUE,pts:knotPoints(ulfCompOrangeT,ulfCompBlueV)},
  {n:'green',c:GREEN,smooth:true,pts:knotPoints(ulfCompGreenT,ulfCompGreenV)},
  {n:'orange',c:ORANGE,pts:knotPoints(ulfCompOrangeT,ulfCompOrangeV)}]},
 {id:'hf-amplitude',col:1,row:0,label:'HF ampl. (ms)',yMin:0,yMax:314,scale:1,ticks:hfAmplYTicks,tickLabels:hfAmplYTickLabels,series:[
  {n:'blue',c:BLUE,pts:bandPoints(hfAmplBlueHi,hfAmplBlueLo)},
  {n:'orange',c:ORANGE,pts:bandPoints(hfAmplOrangeHi,hfAmplOrangeLo)},
  {n:'orange-flat',c:ORANGE,w:1.4,pts:knotPoints(hfAmplFlatT,hfAmplFlatV)},
  {n:'green',c:GREEN,core:corePoints(hfAmplGreenHi,hfAmplGreenLo,0,0.68),pts:bandPoints(hfAmplGreenHi,hfAmplGreenLo,hfAmplGreenSpikeT,hfAmplGreenSpikeV)}]},
 {id:'lf-amplitude',col:1,row:1,label:'LF ampl. (ms)',yMin:0,yMax:255,scale:1,ticks:lfAmplYTicks,tickLabels:lfAmplYTickLabels,series:[
  {n:'blue',c:BLUE,pts:bandPoints(lfAmplBlueHi,lfAmplBlueLo)},
  {n:'orange',c:ORANGE,core:corePoints(lfAmplOrangeHi,lfAmplOrangeLo,10,1),pts:bandPoints(lfAmplOrangeHi,lfAmplOrangeLo)},
  {n:'green',c:GREEN,core:corePoints(lfAmplGreenHi,lfAmplGreenLo,15,0.55),pts:bandPoints(lfAmplGreenHi,lfAmplGreenLo,lfAmplGreenSpikeT,lfAmplGreenSpikeV)}]},
 {id:'vlf-amplitude',col:1,row:2,label:'VLF ampl. (ms)',yMin:0,yMax:200,scale:1,ticks:vlfAmplYTicks,tickLabels:vlfAmplYTickLabels,series:[
  {n:'blue',c:BLUE,smooth:true,pts:knotPoints(vlfAmplTime,vlfAmplBlue)},
  {n:'orange',c:ORANGE,smooth:true,pts:knotPoints(vlfAmplTime,vlfAmplOrange)},
  {n:'green',c:GREEN,smooth:true,pts:knotPoints(vlfAmplTime,vlfAmplGreen)}]},
 {id:'ulf-amplitude',col:1,row:3,label:'ULF ampl. (ms)',yMin:0,yMax:217,scale:1,ticks:ulfAmplYTicks,tickLabels:ulfAmplYTickLabels,xAxis:true,series:[
  {n:'blue',c:BLUE,smooth:true,pts:evenPoints(ulfAmplBlue)},
  {n:'orange',c:ORANGE,smooth:true,pts:evenPoints(ulfAmplOrange)},
  {n:'green',c:GREEN,smooth:true,pts:evenPoints(ulfAmplGreen)}]},
 {id:'hf-frequency',col:2,row:0,label:'HF freq. (mHz)',yMin:0,yMax:586,scale:1,ticks:hfFreqYTicks,tickLabels:hfFreqYTickLabels,series:[
  {n:'blue',c:BLUE,core:corePoints(hfFreqBlueHi,hfFreqBlueLo,200,0.85),pts:bandPoints(hfFreqBlueHi,hfFreqBlueLo)},
  {n:'orange',c:ORANGE,core:corePoints(hfFreqOrangeHi,hfFreqOrangeLo,230,0.8),pts:bandPoints(hfFreqOrangeHi,hfFreqOrangeLo,hfFreqOrangeSpikeT,hfFreqOrangeSpikeV)},
  {n:'green',c:GREEN,core:corePoints(hfFreqGreenHi,hfFreqGreenLo,230,0.72),pts:bandPoints(hfFreqGreenHi,hfFreqGreenLo,hfFreqGreenSpikeT,hfFreqGreenSpikeV)}]},
 {id:'lf-frequency',col:2,row:1,label:'LF freq. (mHz)',yMin:0,yMax:144,scale:1,ticks:lfFreqYTicks,tickLabels:lfFreqYTickLabels,series:[
  {n:'blue',c:BLUE,pts:bandPoints(lfFreqBlueHi,lfFreqBlueLo,lfFreqBlueSpikeT,lfFreqBlueSpikeV)},
  {n:'orange',c:ORANGE,core:corePoints(lfFreqOrangeHi,lfFreqOrangeLo,70,0.8),pts:bandPoints(lfFreqOrangeHi,lfFreqOrangeLo,lfFreqOrangeSpikeT,lfFreqOrangeSpikeV)},
  {n:'green',c:GREEN,core:corePoints(lfFreqGreenHi,lfFreqGreenLo,70,0.68),pts:bandPoints(lfFreqGreenHi,lfFreqGreenLo,lfFreqGreenSpikeT,lfFreqGreenSpikeV)}]},
 {id:'vlf-frequency',col:2,row:2,label:'VLF freq. (mHz)',yMin:0,yMax:50,scale:1,ticks:vlfFreqYTicks,tickLabels:vlfFreqYTickLabels,series:[
  {n:'blue',c:BLUE,smooth:true,pts:knotPoints(vlfFreqBlueT,vlfFreqBlueV)},
  {n:'orange',c:ORANGE,smooth:true,pts:knotPoints(vlfFreqOrangeT,vlfFreqOrangeV)},
  {n:'green',c:GREEN,smooth:true,pts:knotPoints(vlfFreqGreenT,vlfFreqGreenV)}]},
 {id:'ulf-frequency',col:2,row:3,label:'ULF freq. (mHz)',yMin:0,yMax:2,scale:1,ticks:ulfFreqYTicks,tickLabels:ulfFreqYTickLabels,xAxis:true,series:[
  {n:'blue',c:BLUE,smooth:true,pts:evenPoints(ulfFreqBlue)},
  {n:'orange',c:ORANGE,smooth:true,pts:evenPoints(ulfFreqOrange)},
  {n:'green',c:GREEN,smooth:true,pts:evenPoints(ulfFreqGreen)}]}
];

const defs=make('defs',figure);
panels.forEach(function(p){
  const L=colLeft[p.col],T=rowTop[p.row],W=colWidth,H=rowHeight,R=L+W,B=T+H;
  const xOf=t=>L+t/timeMax*W;
  const yOf=v=>B-(v-p.yMin)/(p.yMax-p.yMin)*H;

  const g=make('g',figure);
  
  

  const clip=make('clipPath',defs);
  clip.setAttribute('id','clip-'+p.id);
  const clipRect=make('rect',clip);
  clipRect.setAttribute('x',L-2);
  clipRect.setAttribute('y',T-2);
  clipRect.setAttribute('width',W+2);
  clipRect.setAttribute('height',H+4);

  /* spines: the right column has no visible right spine */
  const sides=[[L,T,R,T,'top'],[L,B,R,B,'bottom'],[L,T-2,L,B+2,'left']];
  if(p.col<2){sides.push([R,T-2,R,B+2,'right']);}
  sides.forEach(function(s){
    const ln=make('line',g);
    ln.setAttribute('x1',s[0]);ln.setAttribute('y1',s[1]);ln.setAttribute('x2',s[2]);ln.setAttribute('y2',s[3]);
    ln.setAttribute('stroke',INK);ln.setAttribute('stroke-width','4.6');
    
    
  });

  /* x ticks */
  timeTicks.forEach(function(t,i){
    const x=xOf(t);
    [[T,T+11],[B,B-11]].forEach(function(e){
      const ln=make('line',g);
      ln.setAttribute('x1',x);ln.setAttribute('x2',x);ln.setAttribute('y1',e[0]);ln.setAttribute('y2',e[1]);
      ln.setAttribute('stroke',INK);ln.setAttribute('stroke-width','4.6');
      
      
    });
    if(p.xAxis){
      const tx=make('text',g);
      tx.setAttribute('x',x);tx.setAttribute('y',1898);
      tx.setAttribute('font-size','55');tx.setAttribute('text-anchor','middle');
      tx.textContent=timeTickLabels[i];
      
      
    }
  });

  /* y ticks */
  p.ticks.forEach(function(v,i){
    const y=yOf(v);
    [[L,L+11],[R,R-11]].forEach(function(e){
      const ln=make('line',g);
      ln.setAttribute('x1',e[0]);ln.setAttribute('x2',e[1]);ln.setAttribute('y1',y);ln.setAttribute('y2',y);
      ln.setAttribute('stroke',INK);ln.setAttribute('stroke-width','4.6');
      
      
    });
    const tx=make('text',g);
    tx.setAttribute('x',L-15);tx.setAttribute('y',y+22);
    tx.setAttribute('font-size','55');tx.setAttribute('text-anchor','end');
    tx.textContent=p.tickLabels[i];
    
    
  });

  /* series */
  const dataGroup=make('g',g);
  dataGroup.setAttribute('clip-path','url(#clip-'+p.id+')');
  
  
  p.series.forEach(function(s){
    const toScreen=q=>[xOf(q[0]),yOf(q[1]*p.scale)];
    const scr=s.pts.map(toScreen);
    let d=s.smooth?smoothPath(scr):straightPath(scr);
    if(s.core){d+=straightPath(s.core.map(toScreen));}
    const path=make('path',dataGroup);
    path.setAttribute('d',d);
    path.setAttribute('fill','none');
    path.setAttribute('stroke',s.c);
    path.setAttribute('stroke-width',s.w||4.4);
    path.setAttribute('stroke-linejoin','round');
    path.setAttribute('stroke-linecap','round');
    
    
  });

  /* y axis label */
  const yl=make('text',g);
  const cy=T+H/2;
  yl.setAttribute('transform','translate('+labelBase[p.col]+' '+cy+') rotate(-90)');
  yl.setAttribute('font-size','54');yl.setAttribute('text-anchor','middle');
  yl.textContent=p.label;
  
  

  /* x axis label */
  if(p.xAxis){
    const xl=make('text',g);
    xl.setAttribute('x',L+W/2-2);xl.setAttribute('y',1970);
    xl.setAttribute('font-size','55');xl.setAttribute('text-anchor','middle');
    xl.textContent='Time (min)';
    
    
  }
});
</script>
</body>
</html>
